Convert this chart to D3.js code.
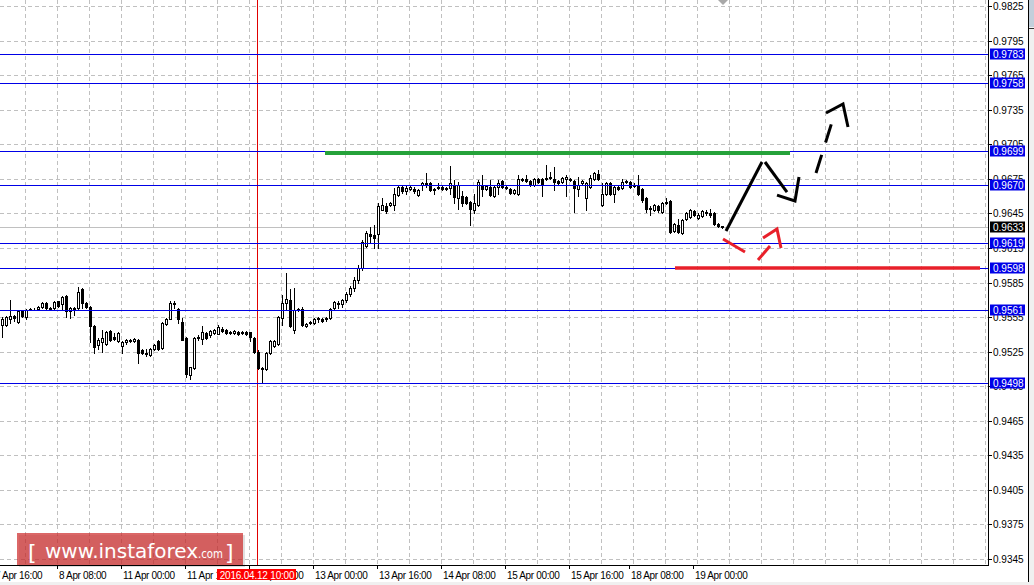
<!DOCTYPE html>
<html><head><meta charset="utf-8">
<script src="https://cdn.jsdelivr.net/npm/d3@7"></script>
<style>html,body{margin:0;padding:0;background:#fff;overflow:hidden}</style>
</head><body><svg id="c" width="1034" height="585"></svg>
<script>
// ---- data ----
const opens=[0.9548,0.9548,0.9553,0.9556,0.9551,0.9560,0.9555,0.9561,0.9562,0.9562,0.9564,0.9567,0.9563,0.9563,0.9569,0.9566,0.9573,0.9560,0.9563,0.9563,
0.9579,0.9567,0.9564,0.9547,0.9531,0.9533,0.9532,0.9543,0.9538,0.9534,0.9530,0.9533,0.9535,0.9534,0.9535,0.9526,0.9524,0.9522,0.9527,0.9534,
0.9528,0.9549,0.9553,0.9567,0.9562,0.9551,0.9537,0.9505,0.9511,0.9537,0.9536,0.9541,0.9539,0.9541,0.9540,0.9545,0.9544,0.9542,0.9541,0.9542,
0.9541,0.9542,0.9542,0.9537,0.9525,0.9511,0.9510,0.9524,0.9530,0.9532,0.9554,0.9567,0.9570,0.9544,0.9561,0.9562,0.9547,0.9550,0.9550,0.9553,
0.9553,0.9553,0.9554,0.9563,0.9567,0.9566,0.9570,0.9575,0.9580,0.9587,0.9598,0.9617,0.9627,0.9626,0.9627,0.9648,0.9651,0.9652,0.9652,0.9661,
0.9668,0.9664,0.9666,0.9666,0.9661,0.9670,0.9671,0.9671,0.9666,0.9667,0.9668,0.9666,0.9667,0.9670,0.9658,0.9660,0.9659,0.9655,0.9648,0.9652,
0.9670,0.9666,0.9668,0.9660,0.9668,0.9673,0.9668,0.9666,0.9663,0.9662,0.9674,0.9675,0.9673,0.9670,0.9675,0.9675,0.9675,0.9676,0.9675,0.9673,
0.9672,0.9675,0.9675,0.9673,0.9666,0.9671,0.9658,0.9668,0.9675,0.9679,0.9652,0.9662,0.9671,0.9662,0.9668,0.9667,0.9672,0.9672,0.9669,0.9670,
0.9666,0.9658,0.9650,0.9648,0.9651,0.9646,0.9654,0.9656,0.9630,0.9635,0.9628,0.9640,0.9642,0.9647,0.9641,0.9643,0.9646,0.9645,0.9645,0.9636,0.9634];
const highs=[0.9555,0.9556,0.9570,0.9557,0.9561,0.9561,0.9562,0.9563,0.9563,0.9565,0.9568,0.9568,0.9564,0.9569,0.9569,0.9573,0.9574,0.9564,0.9564,0.9581,
0.9580,0.9568,0.9565,0.9548,0.9537,0.9544,0.9543,0.9544,0.9541,0.9542,0.9534,0.9536,0.9536,0.9537,0.9536,0.9527,0.9527,0.9528,0.9532,0.9535,
0.9551,0.9554,0.9569,0.9569,0.9563,0.9554,0.9538,0.9512,0.9538,0.9539,0.9547,0.9542,0.9544,0.9545,0.9548,0.9546,0.9545,0.9543,0.9544,0.9543,
0.9543,0.9543,0.9542,0.9538,0.9526,0.9512,0.9525,0.9535,0.9535,0.9556,0.9574,0.9593,0.9579,0.9580,0.9563,0.9564,0.9550,0.9552,0.9554,0.9555,
0.9554,0.9555,0.9563,0.9569,0.9569,0.9571,0.9577,0.9582,0.9590,0.9600,0.9622,0.9630,0.9633,0.9635,0.9654,0.9658,0.9654,0.9655,0.9667,0.9669,
0.9669,0.9670,0.9669,0.9668,0.9666,0.9672,0.9680,0.9672,0.9667,0.9671,0.9669,0.9668,0.9686,0.9674,0.9672,0.9664,0.9660,0.9656,0.9662,0.9674,
0.9678,0.9670,0.9674,0.9669,0.9674,0.9674,0.9669,0.9667,0.9666,0.9678,0.9676,0.9678,0.9674,0.9676,0.9676,0.9676,0.9687,0.9681,0.9685,0.9674,
0.9677,0.9678,0.9676,0.9674,0.9677,0.9674,0.9672,0.9678,0.9681,0.9683,0.9671,0.9672,0.9672,0.9669,0.9669,0.9675,0.9674,0.9673,0.9671,0.9678,
0.9667,0.9659,0.9651,0.9653,0.9652,0.9655,0.9658,0.9657,0.9637,0.9640,0.9640,0.9646,0.9649,0.9648,0.9645,0.9648,0.9648,0.9649,0.9646,0.9637,0.9634];
const lows=[0.9538,0.9547,0.9550,0.9552,0.9550,0.9555,0.9553,0.9561,0.9561,0.9561,0.9563,0.9562,0.9561,0.9562,0.9564,0.9562,0.9555,0.9554,0.9557,0.9561,
0.9563,0.9563,0.9533,0.9524,0.9527,0.9525,0.9531,0.9534,0.9535,0.9533,0.9524,0.9532,0.9533,0.9533,0.9515,0.9523,0.9521,0.9521,0.9526,0.9526,
0.9527,0.9548,0.9553,0.9563,0.9550,0.9535,0.9503,0.9501,0.9510,0.9535,0.9532,0.9536,0.9538,0.9540,0.9540,0.9542,0.9540,0.9540,0.9540,0.9539,
0.9540,0.9539,0.9534,0.9524,0.9510,0.9498,0.9509,0.9523,0.9529,0.9531,0.9548,0.9561,0.9546,0.9541,0.9560,0.9547,0.9546,0.9549,0.9549,0.9551,
0.9551,0.9552,0.9553,0.9562,0.9563,0.9564,0.9568,0.9573,0.9578,0.9585,0.9596,0.9616,0.9620,0.9615,0.9615,0.9648,0.9645,0.9651,0.9648,0.9660,
0.9663,0.9662,0.9665,0.9663,0.9660,0.9665,0.9668,0.9664,0.9662,0.9666,0.9665,0.9665,0.9662,0.9654,0.9649,0.9651,0.9653,0.9635,0.9645,0.9651,
0.9660,0.9665,0.9660,0.9659,0.9662,0.9667,0.9666,0.9662,0.9662,0.9661,0.9673,0.9672,0.9669,0.9669,0.9671,0.9660,0.9674,0.9675,0.9665,0.9670,
0.9671,0.9660,0.9673,0.9646,0.9660,0.9670,0.9648,0.9667,0.9674,0.9674,0.9651,0.9661,0.9661,0.9655,0.9665,0.9666,0.9671,0.9667,0.9668,0.9661,
0.9655,0.9646,0.9644,0.9647,0.9646,0.9645,0.9653,0.9628,0.9629,0.9628,0.9627,0.9639,0.9641,0.9643,0.9640,0.9642,0.9644,0.9642,0.9635,0.9633,0.9632];
const closes=[0.9553,0.9555,0.9556,0.9554,0.9560,0.9556,0.9561,0.9562,0.9562,0.9564,0.9567,0.9563,0.9562,0.9568,0.9565,0.9572,0.9560,0.9563,0.9562,0.9577,
0.9567,0.9564,0.9547,0.9529,0.9535,0.9537,0.9542,0.9535,0.9536,0.9541,0.9533,0.9535,0.9534,0.9536,0.9524,0.9524,0.9523,0.9527,0.9531,0.9527,
0.9550,0.9553,0.9567,0.9566,0.9553,0.9535,0.9506,0.9512,0.9537,0.9538,0.9542,0.9537,0.9543,0.9544,0.9546,0.9543,0.9541,0.9541,0.9543,0.9540,
0.9542,0.9540,0.9538,0.9525,0.9511,0.9510,0.9524,0.9534,0.9534,0.9555,0.9567,0.9571,0.9547,0.9561,0.9562,0.9548,0.9549,0.9551,0.9553,0.9554,
0.9552,0.9554,0.9562,0.9568,0.9566,0.9570,0.9575,0.9580,0.9587,0.9598,0.9620,0.9628,0.9625,0.9624,0.9651,0.9652,0.9647,0.9654,0.9662,0.9668,
0.9664,0.9667,0.9668,0.9664,0.9665,0.9671,0.9670,0.9665,0.9665,0.9668,0.9666,0.9667,0.9671,0.9659,0.9670,0.9654,0.9654,0.9649,0.9654,0.9672,
0.9666,0.9669,0.9661,0.9668,0.9671,0.9668,0.9667,0.9663,0.9665,0.9675,0.9675,0.9673,0.9670,0.9675,0.9672,0.9670,0.9676,0.9677,0.9672,0.9671,
0.9676,0.9677,0.9674,0.9667,0.9670,0.9673,0.9671,0.9676,0.9680,0.9675,0.9662,0.9671,0.9662,0.9668,0.9666,0.9672,0.9673,0.9668,0.9670,0.9662,
0.9657,0.9649,0.9649,0.9652,0.9648,0.9654,0.9655,0.9629,0.9636,0.9629,0.9639,0.9645,0.9648,0.9644,0.9644,0.9647,0.9645,0.9644,0.9636,0.9634,0.9633];

const priceTicks=[0.9345,0.9375,0.9405,0.9435,0.9465,0.9495,0.9525,0.9555,0.9585,0.9615,0.9645,0.9675,0.9705,0.9735,0.9765,0.9795,0.9825];
const levels=[0.9783,0.9758,0.9699,0.9670,0.9619,0.9598,0.9561,0.9498];
const bidPrice=0.9633;
const timeLabels=["7 Apr 16:00","8 Apr 08:00","11 Apr 00:00","11 Apr 16:00","12 Apr 08:00","13 Apr 00:00","13 Apr 16:00","14 Apr 08:00","15 Apr 00:00","15 Apr 16:00","18 Apr 08:00","19 Apr 00:00"];
const timeLabelBars=[-2,14,30,46,62,78,94,110,126,142,157,173];
const crossBar=63.75, crossLabel="2016.04.12 10:00";
// annotations: [bar index, price]
const greenLine=[[80.75,0.96974],[197,0.96974]];
const redLine=[[168.25,0.95976],[244.5,0.95976]];
const blackUp=[[181,0.96297],[190,0.96896]];
const blackDown=[[190.75,0.96896],[196.25,0.96635]];
const blackHead=[[193.75,0.96609],[198.25,0.96557],[199.25,0.96766]];
const blackDash=[[203.5,0.96800],[207.5,0.97243]];
const blackDashHead=[[206,0.97321],[210.25,0.97399],[211.5,0.97200]];
const redDown=[[180.25,0.96227],[185.75,0.96115]];
const redDash=[[189,0.96045],[192,0.96167]];
const redHead=[[190.25,0.96236],[193.75,0.96314],[194.75,0.96149]];

// ---- layout ----
const plotR=988, plotB=565;
const svg=d3.select("#c");
const x=d3.scaleLinear().domain([0,180]).range([2,722]);
const y=d3.scaleLinear().domain([0.9345,0.9825]).range([559,6]);
const Y=p=>Math.round(y(p))+0.5;
const FONT="'Liberation Sans', Arial, sans-serif";

svg.append("rect").attr("width",1034).attr("height",585).attr("fill","#fff");

// grid
const g=svg.append("g");
const gridBars=d3.range(5.75,260,8).filter(b=>x(b)<plotR-1);
g.selectAll("line.vg").data(gridBars).join("line")
  .attr("x1",b=>Math.round(x(b))+0.5).attr("x2",b=>Math.round(x(b))+0.5)
  .attr("y1",0).attr("y2",plotB).attr("stroke","#c0c0c0").attr("stroke-dasharray","4,3");
g.selectAll("line.hg").data(priceTicks).join("line")
  .attr("x1",0).attr("x2",plotR).attr("y1",Y).attr("y2",Y)
  .attr("stroke","#c0c0c0").attr("stroke-dasharray","4,3");

// bid line
svg.append("line").attr("x1",0).attr("x2",plotR).attr("y1",Y(bidPrice)).attr("y2",Y(bidPrice)).attr("stroke","#c0c0c0");

// crosshair
svg.append("line").attr("x1",Math.round(x(crossBar))+0.5).attr("x2",Math.round(x(crossBar))+0.5)
  .attr("y1",0).attr("y2",plotB).attr("stroke","#e00000");

// candles
const bars=opens.map((o,i)=>({i,o,h:highs[i],l:lows[i],c:closes[i]}));
const cg=svg.append("g");
cg.selectAll("line.w").data(bars).join("line")
  .attr("x1",d=>Math.round(x(d.i))+0.5).attr("x2",d=>Math.round(x(d.i))+0.5)
  .attr("y1",d=>Math.round(y(d.h))).attr("y2",d=>Math.round(y(d.l))+1)
  .attr("stroke","#000");
cg.selectAll("rect.b").data(bars).join("rect")
  .attr("x",d=>Math.round(x(d.i))-0.5).attr("width",2)
  .attr("y",d=>Math.round(y(Math.max(d.o,d.c)))+0.5)
  .attr("height",d=>Math.round(y(Math.min(d.o,d.c)))-Math.round(y(Math.max(d.o,d.c))))
  .attr("fill",d=>d.c>=d.o?"#fff":"#000").attr("stroke","#000");

// levels
svg.selectAll("line.lv").data(levels).join("line")
  .attr("x1",0).attr("x2",plotR).attr("y1",Y).attr("y2",Y).attr("stroke","#0000e6");

// annotations
const pt=d=>[x(d[0]),y(d[1])];
const path=(pts,color,w,dash)=>{
  const p=svg.append("path").attr("d",d3.line()(pts.map(pt))).attr("fill","none")
    .attr("stroke",color).attr("stroke-width",w).attr("stroke-linejoin","miter");
  if(dash)p.attr("stroke-dasharray",dash);
  return p;
};
path(greenLine,"#25a23a",4);
path(redLine,"#e8202a",3.5);
path(blackUp,"#000",3);
path(blackDown,"#000",3);
path(blackHead,"#000",3);
path(blackDash,"#000",3,"19,13");
path(blackDashHead,"#000",3);
path(redDown,"#e8202a",3);
path(redDash,"#e8202a",3);
path(redHead,"#e8202a",3);
// small gray marker at top
svg.append("path").attr("d",d3.line()([[179,0.98302],[181.5,0.98302],[180.25,0.98259]].map(pt))+"Z").attr("fill","#a8a8a8");

// axes frame
svg.append("line").attr("x1",plotR+0.5).attr("x2",plotR+0.5).attr("y1",0).attr("y2",plotB+1).attr("stroke","#000");
svg.append("line").attr("x1",0).attr("x2",plotR+1).attr("y1",plotB+0.5).attr("y2",plotB+0.5).attr("stroke","#000");

// price ticks and labels
svg.selectAll("line.pt").data(priceTicks).join("line")
  .attr("x1",plotR).attr("x2",plotR+4).attr("y1",Y).attr("y2",Y).attr("stroke","#000");
svg.selectAll("text.pl").data(priceTicks).join("text")
  .attr("x",993).attr("y",p=>Math.round(y(p))+4).attr("font-family",FONT).attr("font-size",10)
  .attr("fill","#000").text(p=>p.toFixed(4));

// level label boxes
const boxes=levels.map(p=>({p,fill:"#0000e8"})).concat([{p:bidPrice,fill:"#000"}]);
const bg=svg.selectAll("g.bx").data(boxes).join("g");
bg.append("rect").attr("x",990).attr("width",35).attr("y",d=>Math.round(y(d.p))-5.5).attr("height",11).attr("fill",d=>d.fill);
bg.append("text").attr("x",993).attr("y",d=>Math.round(y(d.p))+4).attr("font-family",FONT).attr("font-size",10)
  .attr("fill","#fff").text(d=>d.p.toFixed(4));

// time labels
svg.selectAll("line.tt").data(timeLabelBars).join("line")
  .attr("x1",b=>Math.round(x(b))-0.5).attr("x2",b=>Math.round(x(b))-0.5)
  .attr("y1",plotB).attr("y2",plotB+4).attr("stroke","#000");
svg.selectAll("text.tl").data(timeLabels).join("text")
  .attr("x",(d,i)=>Math.round(x(timeLabelBars[i]))+1).attr("y",579)
  .attr("font-family",FONT).attr("font-size",10).attr("letter-spacing","-0.35")
  .attr("fill","#000").text(d=>d);
// cross label
const cx=Math.round(x(crossBar));
svg.append("rect").attr("x",cx-40).attr("y",569).attr("width",79).attr("height",11).attr("fill","#ff0000");
svg.append("text").attr("x",cx).attr("y",579).attr("text-anchor","middle").attr("font-family",FONT)
  .attr("font-size",10).attr("letter-spacing","-0.2").attr("fill","#fff").text(crossLabel);

// right neighbour strip & bottom strip
svg.append("rect").attr("x",1029).attr("y",0).attr("width",5).attr("height",585).attr("fill","#f0f0f0");
svg.append("rect").attr("x",1029).attr("y",0).attr("width",5).attr("height",27).attr("fill","#c3cfdb");
svg.append("line").attr("x1",1029).attr("x2",1034).attr("y1",28.5).attr("y2",28.5).attr("stroke","#333");
svg.append("line").attr("x1",1028.5).attr("x2",1028.5).attr("y1",0).attr("y2",582).attr("stroke","#000");
svg.append("rect").attr("x",0).attr("y",582).attr("width",1034).attr("height",3).attr("fill","#f0f0f0");

// watermark
const wm=svg.append("g");
wm.append("rect").attr("x",19).attr("y",535).attr("width",226).attr("height",32).attr("fill","rgba(0,0,0,0.12)");
wm.append("rect").attr("x",17).attr("y",533).attr("width",226).attr("height",32).attr("fill","rgba(205,45,45,0.72)");
const WF="'DejaVu Sans', Verdana, sans-serif";
wm.append("text").attr("x",28).attr("y",560).attr("font-family",WF).attr("font-size",22).attr("fill","#fff").text("[");
wm.append("text").attr("x",45).attr("y",558).attr("font-family",WF).attr("font-size",20)
  .attr("textLength",153).attr("lengthAdjust","spacingAndGlyphs").attr("fill","#fff").text("www.instaforex");
wm.append("text").attr("x",198).attr("y",558).attr("font-family",WF).attr("font-size",13)
  .attr("textLength",25).attr("lengthAdjust","spacingAndGlyphs").attr("fill","#fff").text(".com");
wm.append("text").attr("x",225).attr("y",560).attr("font-family",WF).attr("font-size",22).attr("fill","#fff").text("]");
</script></body></html>
